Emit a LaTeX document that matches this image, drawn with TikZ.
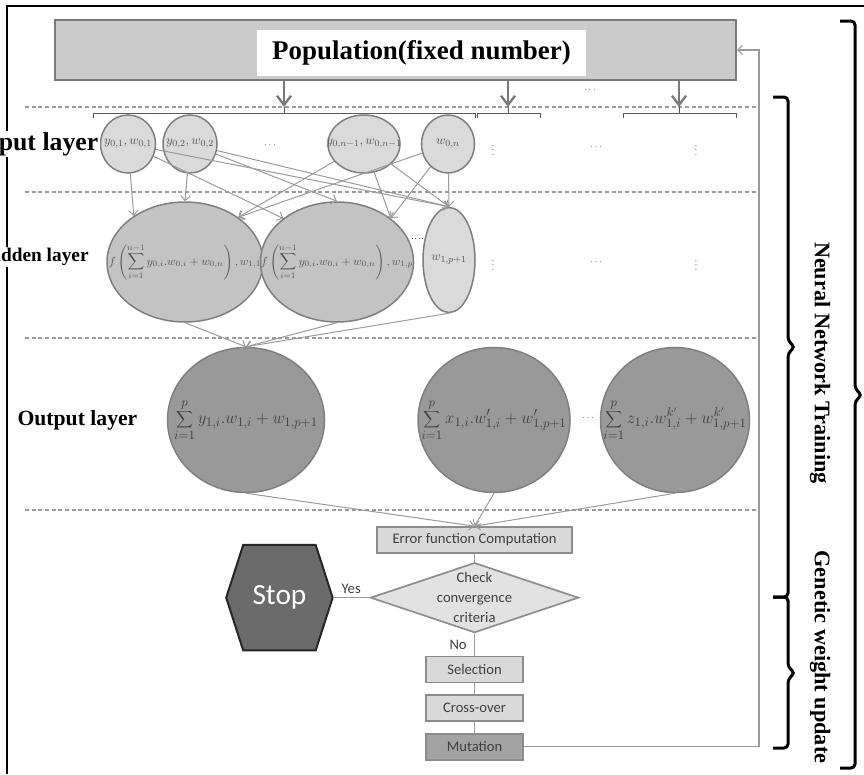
\documentclass[tikz,border=0pt]{standalone}
\usepackage{fontspec}
\setmainfont{Liberation Serif}
\newfontfamily\flowfont{Carlito}
\usetikzlibrary{positioning, shapes.geometric, arrows.meta, backgrounds}

\definecolor{popfill}{HTML}{CBCBCB}
\definecolor{popedge}{HTML}{7A7A7A}
\definecolor{nodeedge}{HTML}{7F7F7F}
\definecolor{lightfill}{HTML}{DADADA}
\definecolor{midfill}{HTML}{C3C3C3}
\definecolor{darkfill}{HTML}{999999}
\definecolor{linkgray}{HTML}{9A9A9A}
\definecolor{mathgray}{HTML}{555555}
\definecolor{flowedge}{HTML}{8C8C8C}
\definecolor{flowfill}{HTML}{D9D9D9}
\definecolor{flowtextgray}{HTML}{404040}
\definecolor{stopfill}{HTML}{6B6B6B}
\definecolor{mutfill}{HTML}{A3A3A3}
\definecolor{checkfill}{HTML}{E2E2E2}

\newcommand{\inside}[1]{\makebox[0pt]{#1}}

\tikzset{
  layerlabel/.style={font=\bfseries, fill=white, inner sep=1pt},
  sidetext/.style={font=\bfseries\fontsize{19}{21}\selectfont, rotate=-90},
  dotsmark/.style={text=mathgray, font=\fontsize{8}{9}\selectfont},
}

\begin{document}
\begin{tikzpicture}[x=0.3mm, y=-0.3mm,
  frame/.style={draw=black, line width=0.6mm},
  popbox/.style={rectangle, draw=popedge, fill=popfill, line width=0.6mm, minimum width=204.3mm, minimum height=18mm},
  poplabel/.style={rectangle, fill=white, minimum width=98.7mm, minimum height=13.8mm, font=\bfseries\fontsize{23}{25}\selectfont},
  layersep/.style={draw=linkgray, line width=0.35mm, dash pattern=on 1.2mm off 0.8mm},
  popgroup/.style={draw=black!65, line width=0.3mm},
  poparrow/.style={draw=popedge, line width=0.75mm, -{Straight Barb[length=8pt, width=12pt, line width=0.7mm]}},
  innode/.style={ellipse, draw=nodeedge, line width=0.45mm, fill=lightfill, inner sep=0pt, minimum height=17.4mm, text=mathgray, font=\fontsize{11}{13}\selectfont},
  hidnode/.style={ellipse, draw=nodeedge, line width=0.45mm, fill=midfill, inner sep=0pt, minimum height=36mm, text=mathgray, font=\fontsize{10}{12}\selectfont},
  outnode/.style={ellipse, draw=nodeedge, line width=0.45mm, fill=darkfill, inner sep=0pt, minimum height=43.5mm, text=black!75, font=\fontsize{15}{17}\selectfont},
  link/.style={draw=linkgray, line width=0.3mm, -{Straight Barb[length=4pt, width=8pt]}},
  flowbox/.style={rectangle, draw=flowedge, fill=flowfill, line width=0.5mm, minimum height=7.8mm, inner sep=0pt, text=flowtextgray, font=\flowfont\fontsize{12.5}{14}\selectfont},
  flowline/.style={draw=linkgray, line width=0.35mm},
  flowlabel/.style={text=flowtextgray, font=\flowfont\fontsize{12.5}{14}\selectfont},
  bracemark/.style={draw=black, line width=0.9mm, rounded corners=1.2mm},
]
\useasboundingbox (0,0) rectangle (864,774);

\draw[frame] (7,774) |- (864,6);

\node[popbox] (pop) at (395.5,50) {};
\node[poplabel] (poptext) at (421.5,53) {Population(fixed number)};

\foreach \yy in {107,192,338,510}
  \draw[layersep] (25,\yy) -- (759,\yy);

\coordinate (b1) at (284,107);
\coordinate (b2) at (508,107);
\coordinate (b3) at (679,107);
\draw[popgroup] (93,118) |- (475,113) -- (475,118);
\draw[popgroup] (477,118) |- (540,113) -- (540,118);
\draw[popgroup] (623,118) |- (736,113) -- (736,118);
\foreach \b in {b1,b2,b3} {
  \draw[popgroup] (\b) -- ++(0,6);
  \draw[poparrow] (pop.south -| \b) -- (\b);
}
\node[dotsmark] (topdots) at (590,90) {$\cdots$};

\node[innode, minimum width=16.5mm] (n1) at (128,144) {\inside{$y_{0,1},w_{0,1}$}};
\node[innode, minimum width=16.2mm] (n2) at (190,144) {\inside{$y_{0,2},w_{0,2}$}};
\node[innode, minimum width=21.6mm] (n3) at (364,144) {\inside{$y_{0,n-1},w_{0,n-1}$}};
\node[innode, minimum width=15.9mm] (n4) at (448,144) {\inside{$w_{0,n}$}};
\node[dotsmark] (indots) at (270,145) {$\cdots$};
\node[layerlabel, font=\bfseries\fontsize{22}{24}\selectfont, left=0pt of n1] (inlabel) {Input layer};

\node[hidnode, minimum width=46.8mm] (h1) at (185,262)
  {\inside{$f\left(\displaystyle\sum_{i=1}^{n-1} y_{0,i}.w_{0,i}+w_{0,n}\right),w_{1,1}$}};
\node[hidnode, minimum width=45.9mm] (h2) at (337,262)
  {\inside{$f\left(\displaystyle\sum_{i=1}^{n-1} y_{0,i}.w_{0,i}+w_{0,n}\right),w_{1,p}$}};
\node[innode, minimum width=15.6mm, minimum height=31.5mm] (h3) at (449,260) {\inside{$w_{1,p+1}$}};
\draw[draw=mathgray, dotted, line width=0.3mm] (412,238) -- (424,238);
\node[layerlabel, font=\bfseries\fontsize{16.5}{18}\selectfont, anchor=east] (hidlabel) at (90,257) {Hidden layer};

\foreach \yy in {147,262} {
  \node[dotsmark] at (493,\yy) {$\vdots$};
  \node[dotsmark] at (596,\yy) {$\cdots$};
  \node[dotsmark] at (696,\yy) {$\vdots$};
}

\draw[link] (n1) -- (h1.138);
\draw[link] (n2) -- (h1.north);
\draw[link] (n3) -- (h1.40);
\draw[link] (n4) -- (h1.40);
\draw[link] (n1) -- (h2.141);
\draw[link] (n2) -- (h2.north);
\draw[link] (n3) -- (h2.39);
\draw[link] (n4) -- (h2.39);
\foreach \src in {n1,n2,n3,n4}
  \draw[link] (\src) -- (h3.north);

\node[outnode, minimum width=47.1mm] (o1) at (246,420)
  {\inside{$\displaystyle\sum_{i=1}^{p} y_{1,i}.w_{1,i}+w_{1,p+1}$}};
\node[outnode, minimum width=45.6mm] (o2) at (494,420)
  {\inside{$\displaystyle\sum_{i=1}^{p} x_{1,i}.w'_{1,i}+w'_{1,p+1}$}};
\node[outnode, minimum width=44.7mm] (o3) at (675,420)
  {\inside{$\displaystyle\sum_{i=1}^{p} z_{1,i}.w^{k'}_{1,i}+w^{k'}_{1,p+1}$}};
\node[dotsmark] (outdots) at (588,418) {$\cdots$};
\node[layerlabel, font=\bfseries\fontsize{18.5}{20}\selectfont, left=8.4mm of o1] (outlabel) {Output layer};

\foreach \src in {h1,h2,h3}
  \draw[link] (\src.south) -- (o1.north);

\node[flowbox, minimum width=58.5mm] (err) at (474.5,540) {Error function Computation};
\node[diamond, draw=flowedge, fill=checkfill, line width=0.5mm, minimum width=62.4mm, minimum height=21mm, inner sep=0pt, below=2.4mm of err] (chk) {};
\node[flowlabel, align=center, font=\flowfont\fontsize{12.5}{17}\selectfont] (chktext) at (chk) {Check\\convergence\\criteria};
\node[flowbox, minimum width=29.1mm, below=6.6mm of chk] (sel) {Selection};
\node[flowbox, minimum width=29.1mm, below=3.3mm of sel] (cross) {Cross-over};
\node[flowbox, minimum width=29.1mm, fill=mutfill, below=3.3mm of cross] (mut) {Mutation};
\node[minimum width=31.8mm, minimum height=31.5mm, inner sep=0pt, text=white,
  font=\flowfont\fontsize{25}{28}\selectfont, left=11.1mm of chk] (stop) {Stop};
\begin{scope}[on background layer]
  \draw[draw=black!85, fill=stopfill, line width=0.6mm]
    (stop.west) -- ([xshift=5.1mm]stop.north west) -- ([xshift=-5.1mm]stop.north east)
    -- (stop.east) -- ([xshift=-5.1mm]stop.south east) -- ([xshift=5.1mm]stop.south west) -- cycle;
\end{scope}

\foreach \src in {o1,o2,o3}
  \draw[link] (\src.south) -- (err.north);
\draw[flowline] (err) -- (chk);
\draw[flowline] (chk) -- node[above, flowlabel] (yes) {Yes} (stop);
\draw[flowline] (chk) -- node[left, flowlabel, xshift=-1mm] (no) {No} (sel);
\draw[flowline] (sel) -- (cross);
\draw[flowline] (cross) -- (mut);

\coordinate (fb) at (759,50);
\draw[flowline, -{Straight Barb[length=4pt, width=8pt]}] (mut.east) -| (fb) -- (pop.east);

\draw[bracemark] (773,97) -- (788,97) -- (788,341) -- (795,347) -- (788,353) -- (788,597) -- (773,597);
\draw[bracemark] (773,597) -- (788,597) -- (788,667) -- (795,673) -- (788,679) -- (788,748) -- (773,748);
\draw[bracemark] (840,21) -- (855,21) -- (855,389) -- (862,395) -- (855,401) -- (855,768) -- (840,768);
\node[sidetext] (nntext) at (820,363) {Neural Network Training};
\node[sidetext] (gwtext) at (820,657) {Genetic weight update};
\end{tikzpicture}
\end{document}
